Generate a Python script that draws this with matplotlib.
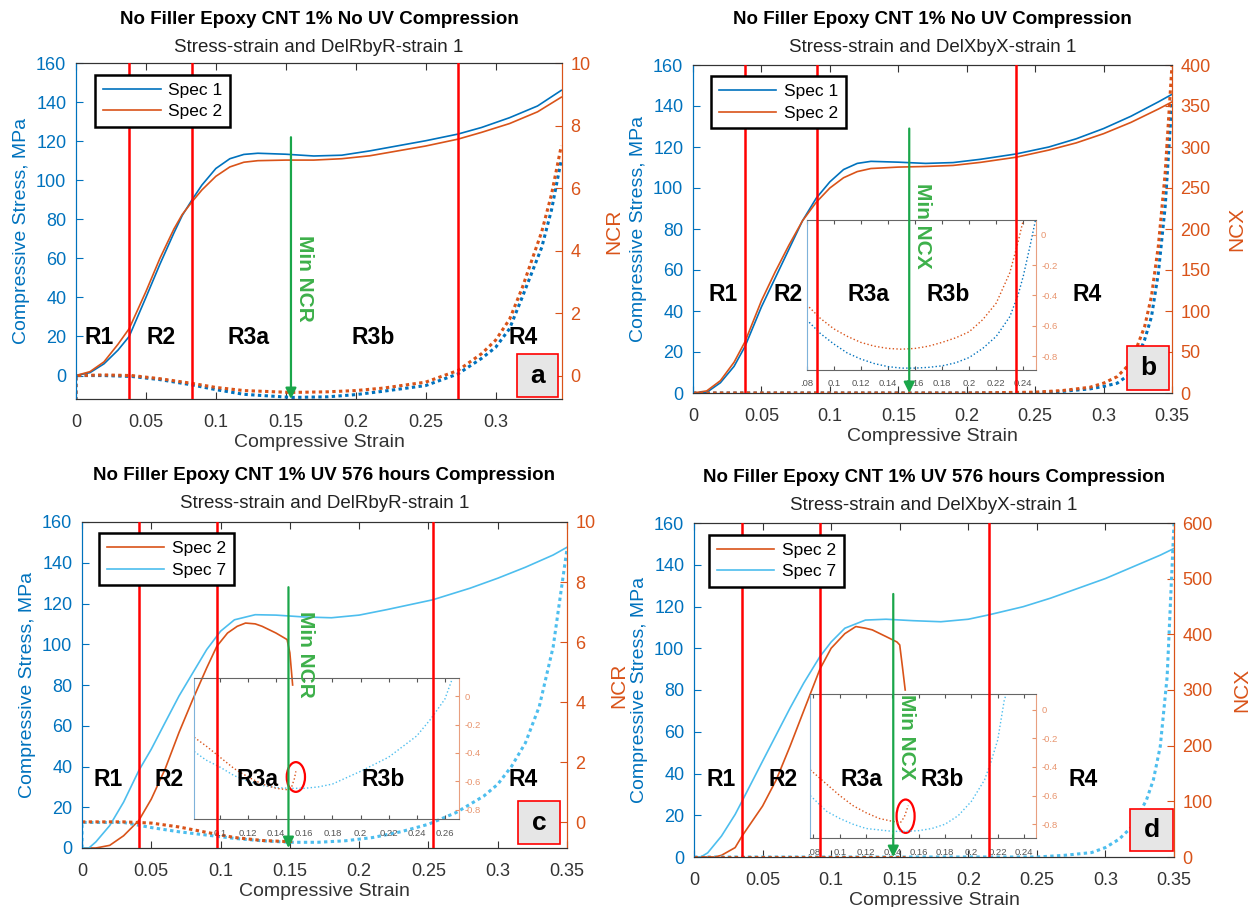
import matplotlib.pyplot as plt
from matplotlib.patches import Rectangle, Ellipse

plt.rcParams['font.family'] = ['Liberation Sans', 'DejaVu Sans']

BLUE = '#0072BD'
ORANGE = '#D95319'
LBLUE = '#4DBEEE'
RED = '#FF0000'
GREEN = '#1AA64A'
GRAY = '#333333'

# ---------------- panel a (no UV, NCR) ----------------
strain_a = [0, 0.01, 0.02, 0.03, 0.038, 0.05, 0.06, 0.07, 0.076, 0.083, 0.09, 0.1, 0.11, 0.12,
            0.13, 0.15, 0.17, 0.19, 0.21, 0.23, 0.25, 0.273, 0.29, 0.31, 0.33, 0.347]
stress_a_spec1 = [0, 1.5, 6, 13, 20, 40, 57, 73, 82, 90, 97.5, 106, 111, 113.2,
                  113.8, 113.3, 112.4, 112.8, 115, 117.6, 120.2, 123.6, 127, 132, 138, 146]
stress_a_spec2 = [0, 2, 7, 16, 24, 43, 60, 75, 82.5, 89, 95, 102, 106.8, 109.2,
                  110, 110.3, 110.3, 111, 112.5, 115, 117.5, 121, 124.5, 129, 135, 142.5]
ncr_strain_a = [0, 0, 0.02, 0.04, 0.06, 0.083, 0.1, 0.12, 0.154, 0.18, 0.2, 0.22,
                0.25, 0.273, 0.29, 0.30, 0.31, 0.319, 0.333, 0.34, 0.347]
ncr_a_spec1 = [-0.8, 0, 0, -0.03, -0.13, -0.3, -0.45, -0.6, -0.7, -0.68, -0.61, -0.5,
               -0.32, 0.05, 0.55, 0.9, 1.5, 2.5, 4.1, 5.3, 6.9]
ncr_a_spec2 = [-0.8, 0, 0.02, 0, -0.1, -0.25, -0.38, -0.48, -0.54, -0.52, -0.48, -0.4,
               -0.21, 0.16, 0.7, 1.13, 1.8, 2.8, 4.6, 5.8, 7.35]
regions_a = [0.038, 0.083, 0.273]

# ---------------- panel b (no UV, NCX) ----------------
strain_b = [0, 0.01, 0.02, 0.03, 0.038, 0.05, 0.06, 0.07, 0.08, 0.09, 0.1, 0.11, 0.12,
            0.13, 0.15, 0.17, 0.19, 0.21, 0.236, 0.26, 0.28, 0.30, 0.32, 0.34, 0.35]
stress_b_spec1 = [0, 0.3, 5, 13, 22.7, 42, 56, 70, 84, 95, 103, 109, 112,
                  113, 112.6, 112, 112.4, 114, 116.6, 120, 124, 129, 135, 142, 145.7]
stress_b_spec2 = [0, 1, 6, 15, 25, 45, 59, 72, 84, 93, 100, 105, 108,
                  109.5, 110.2, 110.5, 111, 112.5, 115, 118.5, 122, 126.5, 132, 138.5, 142]
ncx_strain_b = [0, 0.2, 0.25, 0.27, 0.29, 0.30, 0.31, 0.32, 0.33, 0.335, 0.34, 0.345, 0.35]
ncx_b_spec1 = [0, 0, 0.5, 2, 5, 8, 12, 24, 65, 93, 146, 227, 357]
ncx_b_spec2 = [0, 0, 1, 3, 7, 12, 20, 37, 81, 118, 179, 268, 400]
regions_b = [0.0378, 0.0903, 0.236]
# inset b (zoom of NCX minimum)
ins_strain_b1 = [0.08, 0.09, 0.1, 0.11, 0.12, 0.13, 0.14, 0.15, 0.16, 0.17, 0.18, 0.19,
                 0.2, 0.21, 0.22, 0.23, 0.236, 0.24, 0.245, 0.249]
ins_b_spec1 = [-0.56, -0.65, -0.72, -0.78, -0.82, -0.85, -0.87, -0.88, -0.88, -0.875, -0.865, -0.845,
               -0.81, -0.75, -0.67, -0.54, -0.4, -0.27, -0.07, 0.1]
ins_strain_b2 = [0.08, 0.09, 0.1, 0.11, 0.12, 0.13, 0.14, 0.15, 0.16, 0.17, 0.18, 0.19,
                 0.2, 0.21, 0.22, 0.23, 0.236, 0.24]
ins_b_spec2 = [-0.46, -0.55, -0.62, -0.67, -0.71, -0.735, -0.75, -0.755, -0.75, -0.735, -0.71, -0.68,
               -0.64, -0.56, -0.45, -0.25, -0.05, 0.1]

# ---------------- panel c (UV 576 h, NCR) ----------------
strain_c7 = [0, 0.005, 0.01, 0.02, 0.03, 0.041, 0.05, 0.06, 0.07, 0.08, 0.09, 0.1, 0.11,
             0.125, 0.14, 0.16, 0.18, 0.2, 0.22, 0.253, 0.28, 0.30, 0.32, 0.34, 0.35]
stress_c_spec7 = [0, 0, 3, 11, 22.5, 38, 48.5, 61.6, 74.6, 86, 97.4, 106.4, 112,
                  114.5, 114.3, 113.4, 113, 114.3, 117, 121.8, 127.5, 132.4, 137.8, 143.8, 147.6]
strain_c2 = [0, 0.01, 0.02, 0.03, 0.041, 0.05, 0.06, 0.07, 0.08, 0.09, 0.0973, 0.105,
             0.112, 0.118, 0.125, 0.13, 0.14, 0.148, 0.15, 0.152]
stress_c_spec2 = [0, 0, 1.3, 6, 13.5, 24, 38.8, 56.7, 73, 88.4, 99, 105.5,
                  108.8, 110.4, 110, 108.8, 105.5, 102.3, 95.8, 80]
ncr_strain_c7 = [0, 0, 0.03, 0.05, 0.07, 0.09, 0.11, 0.13, 0.15, 0.17, 0.19, 0.21, 0.23,
                 0.25, 0.27, 0.29, 0.30, 0.31, 0.32, 0.33, 0.34, 0.35]
ncr_c_spec7 = [-0.85, 0, 0, -0.17, -0.31, -0.42, -0.53, -0.61, -0.66, -0.66, -0.61, -0.5, -0.31,
               -0.06, 0.33, 0.88, 1.27, 1.87, 2.65, 3.86, 5.84, 9.1]
ncr_strain_c2 = [0, 0.03, 0.05, 0.07, 0.09, 0.11, 0.13, 0.15, 0.152]
ncr_c_spec2 = [0.02, 0.02, -0.02, -0.15, -0.33, -0.5, -0.6, -0.64, -0.63]
regions_c = [0.0412, 0.0973, 0.2533]
ins_strain_c7 = [0.0817, 0.09, 0.1, 0.11, 0.12, 0.13, 0.14, 0.15, 0.16, 0.17, 0.18, 0.2,
                 0.22, 0.24, 0.25, 0.26, 0.2655]
ins_c_spec7 = [-0.39, -0.45, -0.5, -0.56, -0.6, -0.63, -0.645, -0.65, -0.65, -0.64, -0.62, -0.53,
               -0.43, -0.28, -0.16, -0.02, 0.13]
ins_strain_c2 = [0.0817, 0.09, 0.1, 0.11, 0.12, 0.13, 0.14, 0.148, 0.151, 0.153, 0.154]
ins_c_spec2 = [-0.29, -0.35, -0.43, -0.51, -0.57, -0.62, -0.65, -0.66, -0.64, -0.58, -0.53]

# ---------------- panel d (UV 576 h, NCX) ----------------
strain_d7 = [0, 0.005, 0.01, 0.02, 0.03, 0.035, 0.05, 0.06, 0.07, 0.08, 0.0918, 0.1, 0.11,
             0.125, 0.14, 0.16, 0.18, 0.2, 0.215, 0.24, 0.26, 0.28, 0.30, 0.32, 0.34, 0.35]
stress_d_spec7 = [0, 0, 2, 10, 20.4, 26.7, 45.9, 58.6, 71.3, 83.3, 96, 103, 109.6,
                  113.5, 113.9, 113.2, 112.7, 113.9, 116, 119.9, 124, 128.7, 133.4, 139, 144.6, 147.8]
strain_d2 = [0, 0.015, 0.02, 0.03, 0.035, 0.05, 0.06, 0.07, 0.08, 0.0918, 0.1, 0.11,
             0.118, 0.125, 0.13, 0.14, 0.148, 0.15, 0.152, 0.154]
stress_d_spec2 = [0, 0, 0.8, 4.5, 10, 24.4, 37, 53, 70, 90, 100, 107,
                  110.4, 109.6, 108.8, 105.6, 103, 101.6, 91, 80]
ncx_strain_d7 = [0, 0.2, 0.25, 0.27, 0.29, 0.30, 0.31, 0.32, 0.33, 0.335, 0.34, 0.345, 0.35]
ncx_d_spec7 = [0, 0, 0, 3, 8, 17, 32, 56, 103, 139, 199, 324, 599]
ncx_strain_d2 = [0, 0.154]
ncx_d_spec2 = [0, 0]
regions_d = [0.035, 0.0918, 0.215]
ins_strain_d7 = [0.0776, 0.09, 0.1, 0.11, 0.12, 0.13, 0.14, 0.15, 0.16, 0.17, 0.18, 0.19,
                 0.2, 0.21, 0.215, 0.22, 0.225, 0.2265]
ins_d_spec7 = [-0.6, -0.71, -0.76, -0.8, -0.83, -0.84, -0.85, -0.85, -0.845, -0.83, -0.8, -0.74,
               -0.64, -0.49, -0.36, -0.21, 0.07, 0.109]
ins_strain_d2 = [0.0776, 0.09, 0.1, 0.11, 0.12, 0.13, 0.14, 0.146, 0.149, 0.152]
ins_d_spec2 = [-0.42, -0.52, -0.6, -0.67, -0.72, -0.76, -0.78, -0.79, -0.75, -0.67]

region_names = ['R1', 'R2', 'R3a', 'R3b', 'R4']

fig = plt.figure(figsize=(12.6, 9.07), dpi=100)
W, H = 1260.0, 907.0


def make_panel(box, title, subtitle, title_y, ylim, xmax, xticks, xticklabels,
               rlim, rticks, rlabel, rlabelpad):
    l, r, t, b = box
    ax = fig.add_axes([l / W, 1 - b / H, (r - l) / W, (b - t) / H])
    ax2 = ax.twinx()
    ax.set_xlim(0, xmax)
    ax.set_ylim(*ylim)
    ax2.set_ylim(*rlim)
    ax.set_xticks(xticks)
    ax.set_xticklabels(xticklabels)
    ax.set_yticks(range(0, 161, 20))
    ax2.set_yticks(rticks)
    ax.tick_params(axis='x', direction='in', top=True, colors=GRAY, labelsize=13, pad=11, length=5)
    ax.tick_params(axis='y', direction='in', colors=BLUE, labelsize=13, pad=7, length=5)
    ax2.tick_params(axis='y', direction='in', colors=ORANGE, labelsize=13, pad=6, length=5)
    for a in (ax, ax2):
        a.spines['top'].set_color(GRAY)
        a.spines['bottom'].set_color(GRAY)
        a.spines['left'].set_color(BLUE)
        a.spines['right'].set_color(ORANGE)
    ax.set_xlabel('Compressive Strain', fontsize=14, color=GRAY, labelpad=2)
    ax.set_ylabel('Compressive Stress, MPa', fontsize=14, color=BLUE, labelpad=4)
    ax2.set_ylabel(rlabel, fontsize=15, color=ORANGE, labelpad=rlabelpad)
    cx = (l + r) / 2 / W
    fig.text(cx, 1 - title_y / H, title, ha='center', va='center', fontsize=13.5, weight='bold')
    fig.text(cx, 1 - (title_y + 28) / H, subtitle, ha='center', va='center', fontsize=13.5, color='#222222')
    return ax, ax2


def decorate(ax, ax2, regions, label_y, label_x, arrow_x, arrow_top, arrow_bot,
             min_text, min_xy, letter, letter_box, legend_handles, legend_labels, legend_x):
    for xr in regions:
        ax2.axvline(xr, color=RED, lw=1.8, zorder=6)
    for name, xl in zip(region_names, label_x):
        ax2.text(xl, label_y, name, transform=ax.transData, ha='center', va='center',
                 fontsize=16.5, weight='bold', zorder=8)
    ax2.annotate('', xy=(arrow_x, arrow_bot), xytext=(arrow_x, arrow_top),
                 xycoords=ax.transData, textcoords=ax.transData,
                 arrowprops=dict(arrowstyle='-|>', color=GREEN, lw=1.6, mutation_scale=16,
                                 shrinkA=0, shrinkB=0), zorder=7)
    ax2.text(min_xy[0], min_xy[1], min_text, transform=ax.transData, rotation=-90,
             ha='center', va='center', fontsize=15, weight='bold', color='#3DB04A', zorder=8)
    bx, by, bw, bh = letter_box
    ax2.add_patch(Rectangle((bx, by), bw, bh, transform=ax.transAxes, facecolor='#E6E6E6',
                            edgecolor=RED, lw=1.2, zorder=8, clip_on=False))
    ax2.text(bx + bw / 2, by + bh / 2, letter, transform=ax.transAxes, ha='center', va='center',
             fontsize=19, weight='bold', zorder=9)
    leg = ax2.legend(legend_handles, legend_labels, loc='upper left', bbox_to_anchor=(legend_x, 0.965),
                     frameon=True, fancybox=False, edgecolor='black', framealpha=1, fontsize=12.5,
                     handlelength=3.3, borderpad=0.45, labelspacing=0.35, handletextpad=0.45,
                     borderaxespad=0)
    leg.get_frame().set_linewidth(1.8)
    leg.set_zorder(10)


def make_inset(ax, ax2, bounds, xlim, ylim, xticks, xticklabels):
    ins = ax2.inset_axes(bounds, transform=ax.transData, zorder=5)
    ins.set_facecolor('none')
    ins.set_xlim(*xlim)
    ins.set_ylim(*ylim)
    ins.set_xticks(xticks)
    ins.set_xticklabels(xticklabels)
    ins.yaxis.tick_right()
    ins.set_yticks([0, -0.2, -0.4, -0.6, -0.8])
    ins.set_yticklabels(['0', '-0.2', '-0.4', '-0.6', '-0.8'])
    ins.tick_params(axis='x', direction='in', top=True, colors='#555555', labelsize=6.8, length=3, pad=7)
    ins.tick_params(axis='y', direction='in', colors='#E8956F', labelsize=6.8, length=3, pad=4)
    ins.spines['top'].set_color('#666666')
    ins.spines['bottom'].set_color('#666666')
    ins.spines['left'].set_color('#7FB2DA')
    ins.spines['right'].set_color('#E8A080')
    return ins


dot = (0, (1.1, 1.1))

# ---- a
ax, ax2 = make_panel((76, 562, 63, 399),
                     'No Filler Epoxy CNT 1% No UV Compression',
                     'Stress-strain and DelRbyR-strain 1', 19,
                     (-12, 160), 0.3475, [0, 0.05, 0.1, 0.15, 0.2, 0.25, 0.3],
                     ['0', '0.05', '0.1', '0.15', '0.2', '0.25', '0.3'],
                     (-0.75, 10), [0, 2, 4, 6, 8, 10], 'NCR', 10)
l1, = ax.plot(strain_a, stress_a_spec1, color=BLUE, lw=1.2)
l2, = ax.plot(strain_a, stress_a_spec2, color=ORANGE, lw=1.2)
ax2.plot(ncr_strain_a, ncr_a_spec1, color=BLUE, lw=2.2, ls=dot)
ax2.plot(ncr_strain_a, ncr_a_spec2, color=ORANGE, lw=2.2, ls=dot)
decorate(ax, ax2, regions_a, 19.5, [0.0167, 0.061, 0.1236, 0.2126, 0.32],
         0.1537, 122, -12, 'Min NCR', (0.1637, 49.6), 'a', (0.907, 0.005, 0.085, 0.129),
         [l1, l2], ['Spec 1', 'Spec 2'], 0.04)

# ---- b
ax, ax2 = make_panel((693, 1172, 65, 393),
                     'No Filler Epoxy CNT 1% No UV Compression',
                     'Stress-strain and DelXbyX-strain 1', 20,
                     (0, 160), 0.35, [0, 0.05, 0.1, 0.15, 0.2, 0.25, 0.3, 0.35],
                     ['0', '0.05', '0.1', '0.15', '0.2', '0.25', '0.3', '0.35'],
                     (0, 400), [0, 50, 100, 150, 200, 250, 300, 350, 400], 'NCX', 12)
l1, = ax.plot(strain_b, stress_b_spec1, color=BLUE, lw=1.2)
l2, = ax.plot(strain_b, stress_b_spec2, color=ORANGE, lw=1.2)
ax2.plot(ncx_strain_b, ncx_b_spec1, color=BLUE, lw=2.2, ls=dot)
ax2.plot(ncx_strain_b, ncx_b_spec2, color=ORANGE, lw=2.2, ls=dot)
ins = make_inset(ax, ax2, [0.083, 11.4, 0.1673, 73.1], (0.08, 0.249), (-0.89, 0.1),
                 [0.08, 0.1, 0.12, 0.14, 0.16, 0.18, 0.2, 0.22, 0.24],
                 ['.08', '0.1', '0.12', '0.14', '0.16', '0.18', '0.2', '0.22', '0.24'])
ins.plot(ins_strain_b1, ins_b_spec1, color=BLUE, lw=1, ls=':')
ins.plot(ins_strain_b2, ins_b_spec2, color=ORANGE, lw=1, ls=':')
decorate(ax, ax2, regions_b, 48, [0.0217, 0.0695, 0.128, 0.1868, 0.2879],
         0.158, 129, 0, 'Min NCX', (0.168, 81.7), 'b', (0.906, 0.01, 0.088, 0.134),
         [l1, l2], ['Spec 1', 'Spec 2'], 0.037)

# ---- c
ax, ax2 = make_panel((82, 567, 522, 848),
                     'No Filler Epoxy CNT 1% UV 576 hours Compression',
                     'Stress-strain and DelRbyR-strain 1', 476,
                     (0, 160), 0.35, [0, 0.05, 0.1, 0.15, 0.2, 0.25, 0.3, 0.35],
                     ['0', '0.05', '0.1', '0.15', '0.2', '0.25', '0.3', '0.35'],
                     (-0.85, 10), [0, 2, 4, 6, 8, 10], 'NCR', 10)
l2, = ax.plot(strain_c2, stress_c_spec2, color=ORANGE, lw=1.2)
l7, = ax.plot(strain_c7, stress_c_spec7, color=LBLUE, lw=1.2)
ax2.plot(ncr_strain_c7, ncr_c_spec7, color=LBLUE, lw=2.2, ls=dot)
ax2.plot(ncr_strain_c2, ncr_c_spec2, color=ORANGE, lw=2.2, ls=dot)
ins = make_inset(ax, ax2, [0.081, 14, 0.191, 69.5], (0.0817, 0.27), (-0.87, 0.13),
                 [0.1, 0.12, 0.14, 0.16, 0.18, 0.2, 0.22, 0.24, 0.26],
                 ['0.1', '0.12', '0.14', '0.16', '0.18', '0.2', '0.22', '0.24', '0.26'])
ins.plot(ins_strain_c7, ins_c_spec7, color=LBLUE, lw=1, ls=':')
ins.plot(ins_strain_c2, ins_c_spec2, color=ORANGE, lw=1, ls=':')
ins.add_patch(Ellipse((0.154, -0.57), 0.013, 0.21, fill=False, edgecolor=RED, lw=1.6))
decorate(ax, ax2, regions_c, 33.5, [0.019, 0.063, 0.127, 0.217, 0.318],
         0.149, 128, 0, 'Min NCR', (0.161, 95), 'c', (0.899, 0.013, 0.087, 0.13),
         [l2, l7], ['Spec 2', 'Spec 7'], 0.035)

# ---- d
ax, ax2 = make_panel((694, 1174, 523, 857),
                     'No Filler Epoxy CNT 1% UV 576 hours Compression',
                     'Stress-strain and DelXbyX-strain 1', 477,
                     (0, 160), 0.35, [0, 0.05, 0.1, 0.15, 0.2, 0.25, 0.3, 0.35],
                     ['0', '0.05', '0.1', '0.15', '0.2', '0.25', '0.3', '0.35'],
                     (0, 600), [0, 100, 200, 300, 400, 500, 600], 'NCX', 14)
l2, = ax.plot(strain_d2, stress_d_spec2, color=ORANGE, lw=1.2)
l7, = ax.plot(strain_d7, stress_d_spec7, color=LBLUE, lw=1.2)
ax2.plot(ncx_strain_d7, ncx_d_spec7, color=LBLUE, lw=2.2, ls=dot)
ax2.plot(ncx_strain_d2, ncx_d_spec2, color=ORANGE, lw=2.2, ls=dot)
ins = make_inset(ax, ax2, [0.0848, 9.2, 0.1649, 68.8], (0.0776, 0.2494), (-0.895, 0.109),
                 [0.08, 0.1, 0.12, 0.14, 0.16, 0.18, 0.2, 0.22, 0.24],
                 ['.08', '0.1', '0.12', '0.14', '0.16', '0.18', '0.2', '0.22', '0.24'])
ins.plot(ins_strain_d7, ins_d_spec7, color=LBLUE, lw=1, ls=':')
ins.plot(ins_strain_d2, ins_d_spec2, color=ORANGE, lw=1, ls=':')
ins.add_patch(Ellipse((0.150, -0.744), 0.0137, 0.233, fill=False, edgecolor=RED, lw=1.6))
decorate(ax, ax2, regions_d, 37, [0.02, 0.065, 0.122, 0.181, 0.284],
         0.1453, 126, 0, 'Min NCX', (0.155, 57.5), 'd', (0.909, 0.018, 0.088, 0.126),
         [l2, l7], ['Spec 2', 'Spec 7'], 0.032)

fig.savefig('out.png', dpi=100)
